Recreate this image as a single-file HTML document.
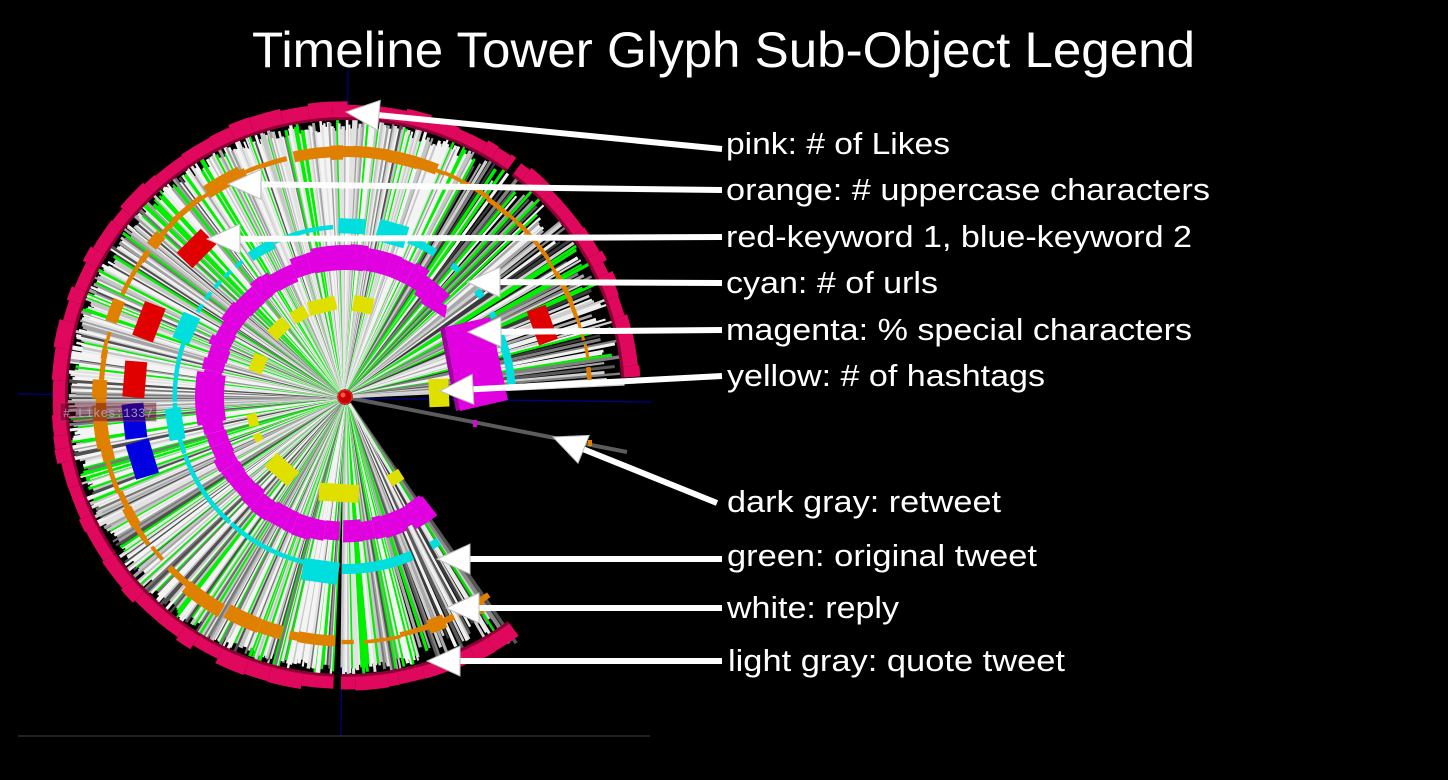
<!DOCTYPE html>
<html><head><meta charset="utf-8">
<style>
html,body{margin:0;padding:0;background:#000;overflow:hidden;}
svg{display:block}
</style></head>
<body>
<svg id="s" width="1448" height="780" viewBox="0 0 1448 780" xmlns="http://www.w3.org/2000/svg">
<rect width="1448" height="780" fill="#000"/>
<g id="axes">
 <line x1="348" y1="70" x2="341" y2="736" stroke="#000080" stroke-width="1.3"/>
 <line x1="18" y1="394" x2="652" y2="402" stroke="#000080" stroke-width="1.3"/>
 <line x1="18" y1="736" x2="650" y2="736" stroke="#2c2c2c" stroke-width="1.5"/>
</g>
<g id="spikes"></g>
<g id="rings"></g>
<g id="boxes"></g>
<g id="center"></g>
<g id="lbl">
 <rect x="60" y="403" width="96" height="18" fill="rgba(90,0,30,0.45)" stroke="rgba(170,70,100,0.5)" stroke-width="1"/>
 <text x="63" y="417" font-family="Liberation Mono, monospace" font-size="12.5" fill="#b4b8d4" fill-opacity="0.8">#&#160;Likes:1337</text>
</g>
<g id="arrows"></g>
<g font-family="Liberation Sans, Arial, sans-serif" fill="#fff">
 <text x="252" y="67" font-size="50" textLength="943" lengthAdjust="spacingAndGlyphs">Timeline Tower Glyph Sub-Object Legend</text>
 <g font-size="31">
  <text x="726" y="154" textLength="224" lengthAdjust="spacingAndGlyphs">pink: # of Likes</text>
  <text x="726" y="200" textLength="484" lengthAdjust="spacingAndGlyphs">orange: # uppercase characters</text>
  <text x="726" y="247" textLength="466" lengthAdjust="spacingAndGlyphs">red-keyword 1, blue-keyword 2</text>
  <text x="726" y="293" textLength="212" lengthAdjust="spacingAndGlyphs">cyan: # of urls</text>
  <text x="726" y="340" textLength="466" lengthAdjust="spacingAndGlyphs">magenta: % special characters</text>
  <text x="727" y="386" textLength="318" lengthAdjust="spacingAndGlyphs">yellow: # of hashtags</text>
  <text x="727" y="512" textLength="274" lengthAdjust="spacingAndGlyphs">dark gray: retweet</text>
  <text x="727" y="566" textLength="310" lengthAdjust="spacingAndGlyphs">green: original tweet</text>
  <text x="727" y="618" textLength="172" lengthAdjust="spacingAndGlyphs">white: reply</text>
  <text x="728" y="671" textLength="337" lengthAdjust="spacingAndGlyphs">light gray: quote tweet</text>
 </g>
</g>
</svg>
<script>
(function(){
const NS='http://www.w3.org/2000/svg';
let seed=20240607;
function R(){seed=(seed+0x6D2B79F5)|0;let t=Math.imul(seed^(seed>>>15),1|seed);t=(t+Math.imul(t^(t>>>7),61|t))^t;return((t^(t>>>14))>>>0)/4294967296;}
const cx=345,cy=397,D=Math.PI/180;
function P(r,a){return [cx+r*Math.cos(a*D),cy+r*Math.sin(a*D)];}
function f(n){return (+n).toFixed(1);}
function el(g,tag,at){const e=document.createElementNS(NS,tag);for(const k in at)e.setAttribute(k,at[k]);g.appendChild(e);return e;}
function band(g,a1,a2,r1,r2,fill){if(a2<=a1)return;const p1=P(r2,a1),p2=P(r2,a2),p3=P(r1,a2),p4=P(r1,a1);const L=(a2-a1)>180?1:0;
 el(g,'path',{d:'M'+f(p1[0])+','+f(p1[1])+'A'+r2+','+r2+' 0 '+L+' 1 '+f(p2[0])+','+f(p2[1])+'L'+f(p3[0])+','+f(p3[1])+'A'+r1+','+r1+' 0 '+L+' 0 '+f(p4[0])+','+f(p4[1])+'Z',fill:fill});}
function box(g,a,rc,h,w,fill){const ca=Math.cos(a*D),sa=Math.sin(a*D);
 const pts=[[-h/2,-w/2],[h/2,-w/2],[h/2,w/2],[-h/2,w/2]].map(function(q){return f(cx+(rc+q[0])*ca-q[1]*sa)+','+f(cy+(rc+q[0])*sa+q[1]*ca);});
 el(g,'polygon',{points:pts.join(' '),fill:fill});}

/* spikes */
const S=document.getElementById('spikes');
const light=[['#f4f4f4',32],['#e2e2e2',15],['#c6c6c6',14],['#a2a2a2',9],['#787878',7],['#505050',6],['#00f000',17]];
const dark=[['#f0f0f0',22],['#d0d0d0',14],['#a8a8a8',12],['#808080',13],['#5a5a5a',14],['#3c3c3c',9],['#00f000',16]];
function pick(t){let s=0;for(const x of t)s+=x[1];let v=R()*s;for(const x of t){if((v-=x[1])<0)return x[0];}return t[0][0];}
el(S,'line',{x1:345,y1:397,x2:627,y2:452,stroke:'#5c5c5c','stroke-width':4});
let a=56;
while(a<357.5){
 const sp=(a>298||a<74);
 const step=sp?0.45+R()*0.7:0.26+R()*0.28;
 if(!(a>90.8&&a<92.3)){
  const r=sp?(258+R()*22):(266+R()*14);
  const c=pick(sp?dark:light);
  const p1=P(8,a),p2=P(r,a);
  el(S,'line',{x1:f(p1[0]),y1:f(p1[1]),x2:f(p2[0]),y2:f(p2[1]),stroke:c,'stroke-width':f(2+R()*1.6)});
 }
 a+=step;
}
[[55.2,300,'#555',3.5],[56.3,296,'#8a8a8a',3],[57.5,292,'#00e000',2.5],[58.6,290,'#e8e8e8',3]].forEach(function(q){const p1=P(8,q[0]),p2=P(q[1],q[0]);el(S,'line',{x1:f(p1[0]),y1:f(p1[1]),x2:f(p2[0]),y2:f(p2[1]),stroke:q[2],'stroke-width':q[3]});});

/* rings */
const G=document.getElementById('rings');
/* pink */
[[54,90.8],[92.3,305.6],[307,356]].forEach(function(rg){band(G,rg[0],rg[1],277,281,'#8c0036');});
[[54,90.8],[92.3,305.6],[307,356]].forEach(function(rg){let a=rg[0];while(a<rg[1]){const a2=Math.min(a+2+R()*5,rg[1]);band(G,a,a2,280,291+R()*5,'#e0085c');a=a2;}});
/* orange */
[[54,90.8],[92.3,356]].forEach(function(rg){let a=rg[0];while(a<rg[1]){const len=1.5+R()*8;const a2=Math.min(a+len,rg[1]);
 const rs=a>298;const th=(!rs&&R()<0.35)?8+R()*7:(rs?3+R()*2:3.5+R()*3);const rc=245+(R()-0.5)*2;
 band(G,a,a2,rc-th/2,rc+th/2,'#e08000');a=a2+(R()<0.45?0.4+R()*2:0);}});
band(G,236,245,240,254,'#e08000');
band(G,258,292,240,251,'#e08000');
band(G,66,70,238,252,'#e08000');band(G,56,60,240,256,'#e08000');
band(G,120,130,240,254,'#e08000');band(G,168,178,239,253,'#e08000');
/* cyan */
const C='#00dede';
[[100,132],[132.6,160],[160.6,178],[178.4,200]].forEach(function(q){band(G,q[0],q[1],168,172.5,C);});
for(let b=205;b<235;b+=5){band(G,b,b+3,168,172,C);}
band(G,236,245,164,174,C);band(G,245.5,266,168,172.5,C);
band(G,292,302,166,174,C);
band(G,309,312,167,173,C);band(G,321,324,166,173,C);band(G,330,332,166,172,C);
band(G,338,356,163,171,C);
band(G,67,91,167,177,C);band(G,57,60,168,176,C);
/* magenta */
const M='#e000e0';
[[53,90.8],[92.3,316]].forEach(function(rg){let a=rg[0];while(a<rg[1]){const a2=Math.min(a+3+R()*7,rg[1]);
 const top=(a>240&&a<300);band(G,a,a2,top?128:123+R()*3,top?148+R()*5:143+R()*5,M);a=a2;}});
band(G,300,316,134,146,M);
const Y='#e0e000';

/* boxes */
const B=document.getElementById('boxes');
box(B,225,210,22,34,'#e00000');
box(B,201,210,22,36,'#e00000');
box(B,184.8,211,22,36,'#e00000');
box(B,173.5,212,22,35,'#0000e0');
box(B,163,212,24,36,'#0000e0');
box(B,340,210,20,36,'#e00000');
box(B,272.3,171,15,27,C);
box(B,286,170,22,30,C);
box(B,203.5,173,18,28,C);
box(B,171,172,16,32,C);
box(B,98,176,22,36,C);
band(B,169,190,121,150,M);
band(B,257,278,127,152,M);
band(B,52,62,126,150,M);
el(B,'polygon',{points:'440,328 445,327 460,410 456,411',fill:'#a000a0'});
el(B,'polygon',{points:'445,327 490,317 508,400 460,411',fill:M});
el(B,'polygon',{points:'424,292 447,306 445,318 421,303',fill:M});
el(B,'rect',{x:473,y:420,width:4,height:7,fill:M});
box(B,226,95,14,20,Y);
box(B,201,93,14,18,Y);
box(B,241,94,13,16,Y);
box(B,256,94,14,28,Y);
box(B,281,94,16,20,Y);
box(B,166,95,10,13,Y);
box(B,155,96,8,8,Y);
box(B,131,96,18,30,Y);
box(B,93.6,96,18,40,Y);
box(B,58,95,12,14,Y);
box(B,357.5,94,20,28,Y);
el(B,'rect',{x:588,y:440,width:4,height:6,fill:'#e08000'});

const Z=document.getElementById('center');
el(Z,'circle',{cx:345,cy:397,r:7,fill:'#c80000',stroke:'#ff2a2a','stroke-width':1});
el(Z,'circle',{cx:343,cy:395,r:2.5,fill:'#ff5050'});

const A=document.getElementById('arrows');
const arrows=[[346,112,722,149],[228,184,722,190],[207,239,722,237],[467,282,722,283],[468,332,722,330],[440,391,722,376],[553,437,717,503],[437,559,722,559],[446,608,722,608],[427,661,722,661]];
arrows.forEach(function(q){const tx=q[0],ty=q[1],ex=q[2],ey=q[3];const dx=ex-tx,dy=ey-ty,L=Math.hypot(dx,dy),ux=dx/L,uy=dy/L;
 const bx=tx+ux*33,by=ty+uy*33;
 el(A,'line',{x1:f(bx-ux*2),y1:f(by-uy*2),x2:ex,y2:ey,stroke:'#fff','stroke-width':6});
 el(A,'polygon',{points:tx+','+ty+' '+f(bx-uy*15)+','+f(by+ux*15)+' '+f(bx+uy*15)+','+f(by-ux*15),fill:'#fff',stroke:'#bdbdbd','stroke-width':1});
});
})();
</script>
</body></html>
